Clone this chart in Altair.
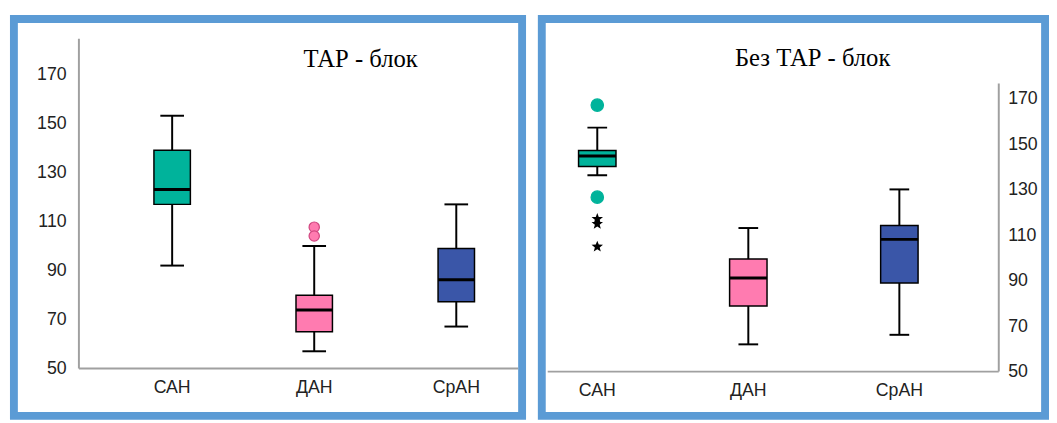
import math
import altair as alt
import pandas as pd

# ---------------- data ----------------
categories = ["САН", "ДАН", "СрАН"]
box_colors = ["#00B39B", "#FF7BB0", "#3A56A8"]

# Left panel: "ТАР - блок"
tar_low = [92.0, 57.0, 67.1]
tar_q1 = [117.0, 65.0, 77.2]
tar_med = [123.1, 73.9, 86.2]
tar_q3 = [139.1, 79.9, 99.0]
tar_high = [153.2, 100.0, 117.0]
tar_circle_cat = ["ДАН", "ДАН"]
tar_circle_val = [107.7, 104.1]
tar_star_cat = []
tar_star_val = []

# Right panel: "Без ТАР - блок"
bez_low = [136.4, 62.0, 66.2]
bez_q1 = [140.3, 78.9, 89.0]
bez_med = [144.9, 91.2, 108.2]
bez_q3 = [147.3, 99.6, 114.3]
bez_high = [157.4, 113.2, 130.2]
bez_circle_cat = ["САН", "САН"]
bez_circle_val = [167.3, 126.8]
bez_star_cat = ["САН", "САН", "САН"]
bez_star_val = [117.2, 115.0, 105.0]

tick_values = [50, 70, 90, 110, 130, 150, 170]

# five-point star symbol path
pts = []
for k in range(10):
    r = 1.0 if k % 2 == 0 else 0.42
    ang = math.radians(-90 + 36 * k)
    pts.append(f"{r*math.cos(ang):.3f},{r*math.sin(ang):.3f}")
STAR = "M" + "L".join(pts) + "Z"

FRAME = "#5B9BD5"
AXIS_GRAY = "#A0A0A0"
LABEL_COLOR = "#222222"


def panel(title, low, q1, med, q3, high, ccat, cval, scat, sval, *,
          W, H, ydom, xpad_outer, xalign, yorient, yoffset, xoffset,
          axis_x, axis_top, xline_from, xline_to, title_x, title_y,
          box_w, cap_w, circle_fill, circle_stroke, circle_size):
    df = pd.DataFrame({"cat": categories, "low": low, "q1": q1, "med": med,
                       "q3": q3, "high": high, "color": box_colors})
    caps = pd.DataFrame({"cat": categories * 2, "v": low + high})
    circ = pd.DataFrame({"cat": ccat, "v": cval})
    star = pd.DataFrame({"cat": scat, "v": sval})
    one = pd.DataFrame({"k": [0]})

    xscale = alt.Scale(domain=categories, paddingInner=0.5,
                       paddingOuter=xpad_outer, align=xalign)
    xaxis = alt.Axis(title=None, domain=False, ticks=False, labelAngle=0,
                     labelPadding=0, offset=xoffset, labelFontSize=18,
                     labelColor=LABEL_COLOR, labelFont="Liberation Sans",
                     labelBaseline="top")
    yscale = alt.Scale(domain=ydom, nice=False, zero=False)
    yaxis = alt.Axis(title=None, domain=False, ticks=False, grid=False,
                     values=tick_values, orient=yorient, offset=yoffset,
                     labelPadding=2, labelFontSize=18, labelColor=LABEL_COLOR,
                     labelFont="Liberation Sans")

    def X(field):
        return alt.X(field, type="nominal", scale=xscale, axis=xaxis, sort=categories)

    def Y(field):
        return alt.Y(field, type="quantitative", scale=yscale, axis=yaxis)

    yline = alt.Chart(one).mark_rule(color=AXIS_GRAY, strokeWidth=2).encode(
        x=alt.value(axis_x), y=alt.YDatum(50, scale=yscale, axis=yaxis),
        y2=alt.Y2Datum(axis_top))
    xline = alt.Chart(one).mark_rule(color=AXIS_GRAY, strokeWidth=2).encode(
        x=alt.value(xline_from), x2=alt.value(xline_to),
        y=alt.YDatum(50, scale=yscale, axis=yaxis))

    whisk = alt.Chart(df).mark_rule(color="black", strokeWidth=2).encode(
        x=X("cat"), y=Y("low"), y2="high:Q")
    capm = alt.Chart(caps).mark_tick(color="black", thickness=2, size=cap_w,
                                     orient="horizontal", opacity=1).encode(
        x=X("cat"), y=Y("v"))
    box = alt.Chart(df).mark_bar(size=box_w, stroke="black", strokeWidth=1.5).encode(
        x=X("cat"), y=Y("q1"), y2="q3:Q",
        color=alt.Color("color:N", scale=None, legend=None))
    medm = alt.Chart(df).mark_tick(color="black", thickness=3, size=box_w,
                                   orient="horizontal", opacity=1).encode(
        x=X("cat"), y=Y("med"))
    layers = [yline, xline, whisk, capm, box, medm]
    if len(cval):
        layers.append(alt.Chart(circ).mark_point(
            shape="circle", filled=True, fill=circle_fill, stroke=circle_stroke,
            strokeWidth=1.2, size=circle_size, opacity=1).encode(
            x=X("cat"), y=Y("v")))
    if len(sval):
        layers.append(alt.Chart(star).mark_point(
            shape=STAR, filled=True, color="black", size=150, opacity=1).encode(
            x=X("cat"), y=Y("v")))
    ttl = alt.Chart(one).mark_text(text=title, font="Liberation Serif",
                                   fontSize=25, color="black",
                                   align="center", baseline="middle").encode(
        x=alt.value(title_x), y=alt.value(title_y))
    layers.append(ttl)
    return alt.layer(*layers).properties(width=W, height=H)


left = panel("ТАР - блок", tar_low, tar_q1, tar_med, tar_q3, tar_high,
             tar_circle_cat, tar_circle_val, tar_star_cat, tar_star_val,
             W=516, H=403, ydom=[30.6, 192.7], xpad_outer=0.5386, xalign=0.802,
             yorient="left", yoffset=-55, xoffset=-38,
             axis_x=66, axis_top=184.6, xline_from=66, xline_to=512,
             title_x=352, title_y=41, box_w=37, cap_w=24,
             circle_fill="#FF7BB0", circle_stroke="#D0457F", circle_size=110)

right = panel("Без ТАР - блок", bez_low, bez_q1, bez_med, bez_q3, bez_high,
              bez_circle_cat, bez_circle_val, bez_star_cat, bez_star_val,
              W=511, H=403, ydom=[30.5, 205.2], xpad_outer=0.416, xalign=0.141,
              yorient="right", yoffset=-40, xoffset=-35,
              axis_x=464, axis_top=176.8, xline_from=6, xline_to=464,
              title_x=275, title_y=40, box_w=38, cap_w=20,
              circle_fill="#00B39B", circle_stroke="#00B39B", circle_size=160)

chart = alt.hconcat(left, right, spacing=12).properties(
    padding={"left": 2, "top": 4, "right": 0, "bottom": 0},
    background="white",
).configure_view(stroke=FRAME, strokeWidth=8).resolve_scale(
    x="independent", y="independent")

chart.save("out.html", embed_options={"renderer": "svg", "actions": False})
